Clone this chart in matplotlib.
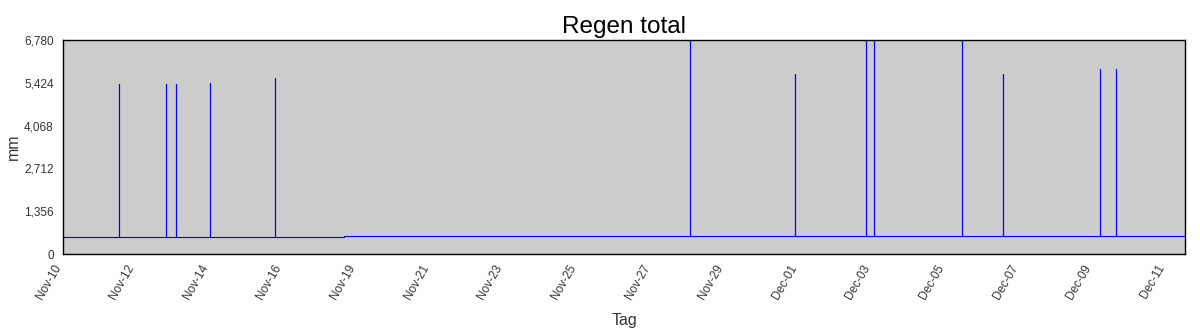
import numpy as np
import pandas as pd
import matplotlib
matplotlib.use("Agg")
import matplotlib.pyplot as plt
from matplotlib.ticker import FuncFormatter

plt.rcParams['font.family'] = ['Liberation Sans', 'DejaVu Sans']

# data
start = "2023-11-10 00:00"
end = "2023-12-11 11:30"
gap_start = "2023-11-17 15:00"   # no samples in between
gap_end = "2023-11-18 15:00"
base_before = 545
base_after = 575

spike_times = ["2023-11-11 12:30", "2023-11-12 19:10", "2023-11-13 01:40",
               "2023-11-13 23:45", "2023-11-15 18:15", "2023-11-28 01:00",
               "2023-11-30 21:00", "2023-12-02 19:10", "2023-12-03 00:25",
               "2023-12-05 09:50", "2023-12-06 13:00", "2023-12-09 03:50",
               "2023-12-09 14:20"]
spike_values = [5400, 5400, 5400, 5430, 5560, 7400, 5717, 7400, 7400,
                7400, 5717, 5845, 5845]

tick_dates = ["2023-11-10", "2023-11-12", "2023-11-14", "2023-11-16",
              "2023-11-19", "2023-11-21", "2023-11-23", "2023-11-25",
              "2023-11-27", "2023-11-29", "2023-12-01", "2023-12-03",
              "2023-12-05", "2023-12-07", "2023-12-09", "2023-12-11"]

y_max = 6780

t0 = pd.Timestamp(start)
g0 = pd.Timestamp(gap_start)
g1 = pd.Timestamp(gap_end)


def to_pos(t):
    # sample axis: time in days, with the missing stretch removed
    t = pd.Timestamp(t)
    d = (t - t0) / pd.Timedelta(days=1)
    if t >= g1:
        d -= (g1 - g0) / pd.Timedelta(days=1)
    return d


def base(t):
    return base_before if pd.Timestamp(t) < g0 else base_after


xs = [to_pos(start)]
ys = [base_before]
for t, v in zip(spike_times, spike_values):
    if pd.Timestamp(t) > g1 and ys[-1] == base_before:
        xs += [to_pos(gap_start), to_pos(gap_end)]
        ys += [base_before, base_after]
    b = base(t)
    xs += [to_pos(t), to_pos(t), to_pos(t)]
    ys += [b, v, b]
xs.append(to_pos(end))
ys.append(base_after)

fig = plt.figure(figsize=(12, 3.33), dpi=100)
ax = fig.add_axes([0.0528, 0.237, 0.9347, 0.643])
ax.set_facecolor("#cccccc")
ax.plot(xs, ys, color="#0000ff", linewidth=0.8)

ax.set_xlim(to_pos(start), to_pos(end))
ax.set_ylim(0, y_max)
ax.set_yticks(np.linspace(0, y_max, 6))
ax.yaxis.set_major_formatter(FuncFormatter(lambda v, p: f"{v:,.0f}"))
ax.set_xticks([to_pos(d) for d in tick_dates])
ax.set_xticklabels([pd.Timestamp(d).strftime("%b-%d") for d in tick_dates],
                   rotation=60, ha="right", rotation_mode="default")

ax.tick_params(axis="both", length=0, labelsize=8.5, labelcolor="#333333")
ax.tick_params(axis="y", pad=7)
ax.tick_params(axis="x", pad=6)
for s in ax.spines.values():
    s.set_linewidth(1.0)
    s.set_color("black")

ax.set_title("Regen total", fontsize=17.5, pad=5)
ax.set_xlabel("Tag", fontsize=11.5, color="#333333", labelpad=8)
ax.set_ylabel("mm", fontsize=11.5, color="#333333", labelpad=2)

fig.savefig("out.png", dpi=100)
